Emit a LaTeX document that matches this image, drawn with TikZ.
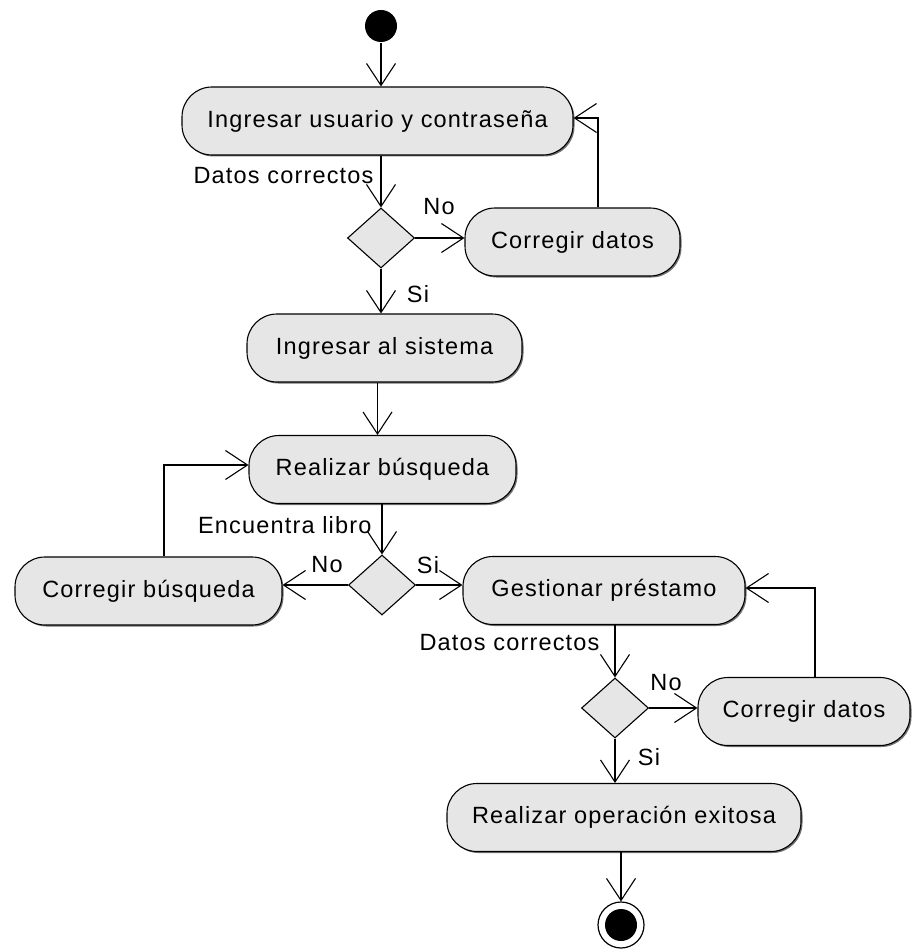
\documentclass[tikz,border=0pt]{standalone}
\usepackage{fontspec}
\setmainfont{Liberation Sans}[LetterSpace=5]
\usetikzlibrary{arrows.meta,shapes.geometric,shadows}
\definecolor{actfill}{RGB}{230,230,230}
\begin{document}
\begin{tikzpicture}[x=1pt,y=-1pt,
  font=\fontsize{23.5}{27}\selectfont,
  line width=1.1pt,
  >={Straight Barb[length=22pt,width=29pt,line width=1.1pt]},
  act/.style={draw, fill=actfill, rounded corners=30pt, minimum height=68pt, inner sep=0pt,
    drop shadow={shadow xshift=1.5pt, shadow yshift=-1.5pt, fill=black!55, opacity=1}},
  dec/.style={draw, fill=actfill, diamond, minimum width=67pt, minimum height=60pt, inner sep=0pt},
  startnode/.style={circle, fill=black, minimum size=32pt, inner sep=0pt},
  endnode/.style={circle, draw, fill=white, minimum size=46pt, inner sep=0pt, line width=1.2pt,
    path picture={\fill[black] (path picture bounding box.center) circle (16pt);}},
  lbl/.style={inner sep=0pt}]
\useasboundingbox (0,0) rectangle (911,952);

\node[startnode] (s) at (381,26) {};
\node[act, minimum width=391pt] (n1) at (377.5,121) {Ingresar usuario y contraseña};
\node[dec] (d1) at (381,238) {};
\node[act, minimum width=215pt] (c1) at (572.5,242) {Corregir datos};
\node[act, minimum width=275pt] (n2) at (384.5,348) {Ingresar al sistema};
\node[act, minimum width=267pt] (n3) at (382.5,469.5) {Realizar búsqueda};
\node[dec] (d2) at (382,585) {};
\node[act, minimum width=267pt] (c2) at (148.5,591) {Corregir búsqueda};
\node[act, minimum width=282pt] (n4) at (604,590.5) {Gestionar préstamo};
\node[dec] (d3) at (615,708) {};
\node[act, minimum width=212pt] (c3) at (804,711.5) {Corregir datos};
\node[act, minimum width=354pt] (n5) at (624,817.5) {Realizar operación exitosa};
\node[endnode] (e) at (621,925) {};

\node[lbl, anchor=east] (l1) at (374,176) {Datos correctos};
\node[lbl] (l2) at (439,207) {No};
\node[lbl] (l3) at (418,294) {Si};
\node[lbl, anchor=east] (l4) at (372,525) {Encuentra libro};
\node[lbl] (l5) at (327,565) {No};
\node[lbl] (l6) at (428,565) {Si};
\node[lbl, anchor=east] (l7) at (600,643) {Datos correctos};
\node[lbl] (l8) at (666,683) {No};
\node[lbl] (l9) at (649,757) {Si};

\draw[->] (s) -- (s |- n1.north);
\draw[->] (n1.south -| d1) -- (d1.north);
\draw[->] (d1.east) -- (d1.east -| c1.west);
\draw[->] ([xshift=25.5pt]c1.north) |- ([yshift=3pt]n1.east);
\draw[->] (d1.south) -- (d1.south |- n2.north);
\draw[->] ([xshift=-7pt]n2.south) -- ([xshift=-7pt]n2.south |- n3.north);
\draw[->] (n3.south -| d2) -- (d2.north);
\draw[->] (d2.west) -- (d2.west -| c2.east);
\draw[->] ([xshift=15.5pt]c2.north) |- ([yshift=4.5pt]n3.west);
\draw[->] (d2.east) -- (d2.east -| n4.west);
\draw[->] (n4.south -| d3) -- (d3.north);
\draw[->] (d3.east) -- (d3.east -| c3.west);
\draw[->] ([xshift=11pt]c3.north) |- ([yshift=2.5pt]n4.east);
\draw[->] (d3.south) -- (d3.south |- n5.north);
\draw[->] (n5.south -| e) -- (e.north);
\end{tikzpicture}
\end{document}
